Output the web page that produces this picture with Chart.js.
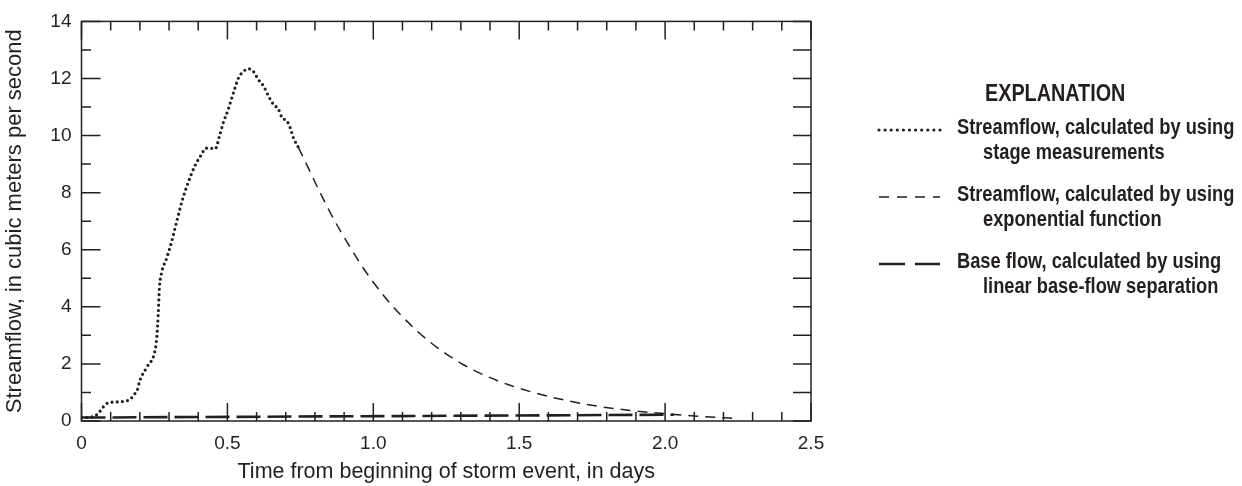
<!DOCTYPE html>
<html>
<head>
<meta charset="utf-8">
<script src="https://cdn.jsdelivr.net/npm/chart.js@4.4.1/dist/chart.umd.min.js"></script>
<style>
  html, body { margin: 0; padding: 0; background: #fff; }
  .chart-box { position: relative; width: 1242px; height: 486px; }
</style>
</head>
<body>
<div class="chart-box"><canvas id="flowChart"></canvas></div>
<script>
// Streamflow from stage measurements (days, m3/s)
const stageDays = [0, 0.04, 0.058, 0.075, 0.092, 0.126, 0.166, 0.183, 0.191, 0.2, 0.224, 0.252, 0.258, 0.263, 0.267, 0.273, 0.292, 0.309, 0.326, 0.347, 0.366, 0.389, 0.412, 0.426, 0.441, 0.458, 0.473, 0.486, 0.503, 0.515, 0.526, 0.538, 0.555, 0.572, 0.589, 0.606, 0.623, 0.641, 0.658, 0.675, 0.687, 0.704, 0.715, 0.726, 0.743];
const stageFlow = [0.12, 0.15, 0.27, 0.50, 0.64, 0.67, 0.76, 0.96, 1.08, 1.42, 1.89, 2.47, 2.93, 3.74, 4.66, 5.13, 5.71, 6.29, 6.98, 7.79, 8.37, 8.95, 9.35, 9.56, 9.56, 9.53, 9.99, 10.46, 10.92, 11.32, 11.67, 12.02, 12.25, 12.34, 12.25, 11.96, 11.75, 11.38, 11.09, 10.92, 10.63, 10.51, 10.28, 9.93, 9.59];

// Recession from the exponential function
const expDays = [0.743, 0.772, 0.812, 0.864, 0.92, 0.966, 1.047, 1.115, 1.195, 1.309, 1.424, 1.538, 1.652, 1.767, 1.881, 1.995, 2.11, 2.24];
const expFlow = [9.59, 8.98, 8.12, 7.08, 6.10, 5.35, 4.25, 3.50, 2.76, 1.97, 1.42, 1.03, 0.74, 0.52, 0.37, 0.26, 0.17, 0.09];

// Linear base-flow separation
const baseDays = [0, 2.03];
const baseFlow = [0.12, 0.22];

// Axis labels
const xMajor = [0, 0.5, 1, 1.5, 2, 2.5];
const xLabels = ['0', '0.5', '1.0', '1.5', '2.0', '2.5'];
const yMajor = [0, 2, 4, 6, 8, 10, 12, 14];
const yLabels = ['0', '2', '4', '6', '8', '10', '12', '14'];

const legendTitle = 'EXPLANATION';
const legendLines = [
  ['Streamflow, calculated by using', 'stage measurements'],
  ['Streamflow, calculated by using', 'exponential function'],
  ['Base flow, calculated by using', 'linear base-flow separation']
];

const ink = '#231f20';
const face = "'Liberation Sans', Arial, sans-serif";

const toPoints = (xs, ys) => xs.map((x, i) => ({ x: x, y: ys[i] }));
const near = (list, v) => list.findIndex(m => Math.abs(m - v) < 1e-6);

// inward tick marks on all four sides plus the frame
const frameTicks = {
  id: 'frameTicks',
  beforeDatasetsDraw(chart) {
    const { ctx, chartArea: a, scales: { x, y } } = chart;
    ctx.save();
    ctx.strokeStyle = ink;
    ctx.lineWidth = 1.5;
    ctx.beginPath();
    x.ticks.forEach(t => {
      const px = x.getPixelForValue(t.value);
      const len = near(xMajor, t.value) >= 0 ? 18 : 9;
      ctx.moveTo(px, a.bottom); ctx.lineTo(px, a.bottom - len);
      ctx.moveTo(px, a.top); ctx.lineTo(px, a.top + len);
    });
    y.ticks.forEach(t => {
      const py = y.getPixelForValue(t.value);
      const len = near(yMajor, t.value) >= 0 ? 19 : 9.5;
      ctx.moveTo(a.left, py); ctx.lineTo(a.left + len, py);
      ctx.moveTo(a.right, py); ctx.lineTo(a.right - 18, py);
    });
    ctx.stroke();
    ctx.strokeRect(a.left, a.top, a.width, a.height);
    ctx.restore();
  }
};

// condensed bold text: squeeze horizontally
function narrowText(ctx, text, x, y, squeeze) {
  ctx.save();
  ctx.translate(x, y);
  ctx.scale(squeeze, 1);
  ctx.fillText(text, 0, 0);
  ctx.restore();
}

// explanation block on the right
const explanation = {
  id: 'explanation',
  afterDraw(chart) {
    const ctx = chart.ctx;
    ctx.save();
    ctx.fillStyle = ink;
    ctx.textBaseline = 'middle';
    ctx.textAlign = 'left';
    ctx.font = 'bold 23px ' + face;
    narrowText(ctx, legendTitle, 985, 95, 0.86);

    const rows = [128, 195, 262];
    ctx.font = 'bold 22px ' + face;
    chart.data.datasets.forEach((ds, i) => {
      const y = rows[i];
      ctx.save();
      ctx.strokeStyle = ds.borderColor;
      ctx.lineWidth = ds.borderWidth;
      ctx.lineCap = ds.borderCapStyle || 'butt';
      ctx.setLineDash(ds.legendDash || ds.borderDash || []);
      ctx.beginPath();
      ctx.moveTo(879, y + 2);
      ctx.lineTo(940, y + 2);
      ctx.stroke();
      ctx.restore();
      narrowText(ctx, legendLines[i][0], 957, y, 0.83);
      narrowText(ctx, legendLines[i][1], 983, y + 25, 0.83);
    });
    ctx.restore();
  }
};

const ctx = document.getElementById('flowChart').getContext('2d');
new Chart(ctx, {
  type: 'line',
  data: {
    datasets: [{
      label: 'Streamflow, stage measurements',
      data: toPoints(stageDays, stageFlow),
      borderColor: ink,
      borderWidth: 3.2,
      borderCapStyle: 'round',
      borderDash: [0, 5.2],
      legendDash: [0, 6.1],
      cubicInterpolationMode: 'monotone',
      pointRadius: 0,
      fill: false
    }, {
      label: 'Streamflow, exponential function',
      data: toPoints(expDays, expFlow),
      borderColor: ink,
      borderWidth: 1.5,
      borderDash: [10, 7],
      legendDash: [10, 8],
      cubicInterpolationMode: 'monotone',
      pointRadius: 0,
      fill: false
    }, {
      label: 'Base flow',
      data: toPoints(baseDays, baseFlow),
      borderColor: ink,
      borderWidth: 2.6,
      borderDash: [24, 7],
      legendDash: [26, 10],
      pointRadius: 0,
      fill: false
    }]
  },
  options: {
    responsive: true,
    maintainAspectRatio: false,
    animation: false,
    events: [],
    layout: { padding: { top: 18, right: 431, left: 0, bottom: 0 } },
    plugins: {
      legend: { display: false },
      tooltip: { enabled: false }
    },
    scales: {
      x: {
        type: 'linear',
        min: 0,
        max: 2.5,
        grid: { display: false, drawTicks: false },
        border: { display: false },
        afterFit(scale) { scale.height = 65; },
        ticks: {
          stepSize: 0.1,
          autoSkip: false,
          maxRotation: 0,
          padding: 11,
          color: ink,
          font: { family: face, size: 19 },
          callback: v => { const i = near(xMajor, v); return i >= 0 ? xLabels[i] : ''; }
        },
        title: {
          display: true,
          text: 'Time from beginning of storm event, in days',
          color: ink,
          padding: { top: 0, bottom: 1 },
          font: { family: face, size: 21.5 }
        }
      },
      y: {
        min: 0,
        max: 14,
        grid: { display: false, drawTicks: false },
        border: { display: false },
        afterFit(scale) { scale.width = 81.5; },
        ticks: {
          stepSize: 1,
          autoSkip: false,
          padding: 10,
          color: ink,
          font: { family: face, size: 19 },
          callback: v => { const i = near(yMajor, v); return i >= 0 ? yLabels[i] : ''; }
        },
        title: {
          display: true,
          text: 'Streamflow, in cubic meters per second',
          color: ink,
          padding: { top: 2, bottom: 0 },
          font: { family: face, size: 22 }
        }
      }
    }
  },
  plugins: [frameTicks, explanation]
});
</script>
</body>
</html>
